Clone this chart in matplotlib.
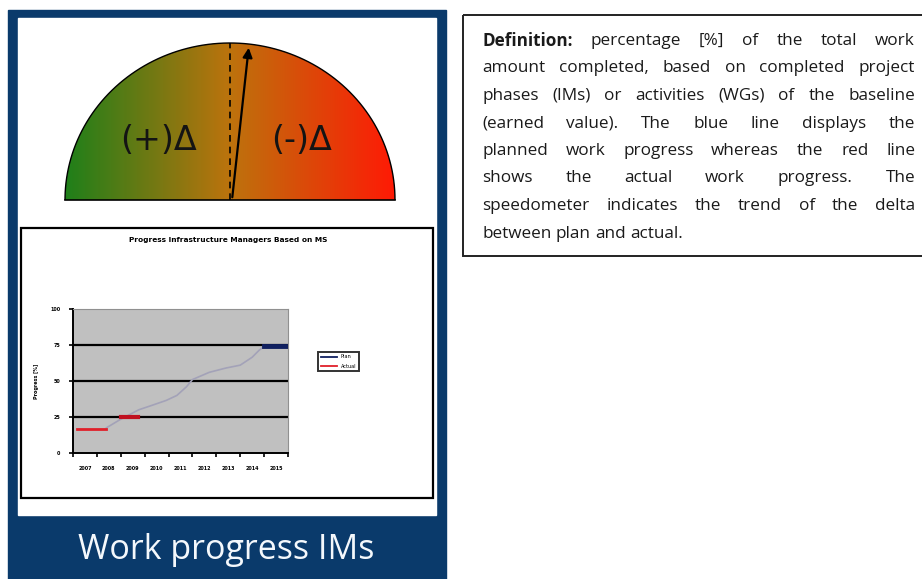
import numpy as np
import matplotlib.pyplot as plt
from matplotlib.colors import LinearSegmentedColormap
from matplotlib.patches import Rectangle, Polygon

# data for the small progress chart
years = [2007, 2008, 2009, 2010, 2011, 2012, 2013, 2014, 2015]
plan_x = [2007.9, 2008.45, 2009.25, 2009.7, 2010.4, 2010.85, 2011.25, 2011.5, 2012.2, 2012.9, 2013.5, 2014.0, 2014.3, 2014.5]
plan_y = [17.5, 23, 30, 32.5, 36.5, 40, 46, 51, 56, 59, 61, 66.5, 71.5, 74]
actual_x1 = [2006.65, 2007.9]
actual_y1 = [16.5, 16.5]
actual_x2 = [2008.5, 2009.2]
actual_y2 = [25, 25]
plan_end_x = [2014.5, 2015.45]
plan_end_y = [74, 74]
yticks = [0, 25, 50, 75, 100]

lines = [
    "Definition: percentage [%] of the total work",
    "amount completed, based on completed project",
    "phases (IMs) or activities (WGs) of the baseline",
    "(earned value). The blue line displays the",
    "planned work progress whereas the red line",
    "shows the actual work progress. The",
    "speedometer indicates the trend of the delta",
    "between plan and actual.",
]

navy = "#0a3a6b"
fs_txt = 12.3
W, H = 922, 579
fig = plt.figure(figsize=(W / 100, H / 100), dpi=100)
bg = fig.add_axes([0, 0, 1, 1])
bg.set_xlim(0, W)
bg.set_ylim(H, 0)
bg.axis("off")

# left panel frame
bg.add_patch(Rectangle((8, 10), 438, 580, color=navy, zorder=1))
bg.add_patch(Rectangle((18, 18), 418, 497, color="white", zorder=2))
bg.text(226, 550, "Work progress IMs", color="#f4f8fc", fontsize=24.5, family="Open Sans",
        ha="center", va="center", zorder=3)

# chart frame
bg.add_patch(Rectangle((21, 228), 412, 270, fill=False, edgecolor="black", lw=1.6, zorder=3))

# speedometer
cx, cy, rx, ry = 230, 200, 165, 157
t = np.linspace(0, np.pi, 200)
semi = np.column_stack([cx + rx * np.cos(t), cy - ry * np.sin(t)])
clip = Polygon(semi, closed=True, transform=bg.transData, facecolor="none")
cmap = LinearSegmentedColormap.from_list("g", [(0, (0.12, 0.50, 0.10)), (0.5, (0.74, 0.45, 0.05)), (1, (1.0, 0.1, 0.02))])
grad = np.linspace(0, 1, 256)[None, :]
im = bg.imshow(grad, cmap=cmap, extent=(cx - rx, cx + rx, cy, cy - ry), aspect="auto", zorder=3)
im.set_clip_path(clip)
bg.add_patch(Polygon(semi, closed=False, fill=False, edgecolor="black", lw=1.0, zorder=4))
bg.plot([cx - rx, cx + rx], [cy, cy], color="black", lw=1.2, zorder=4)
bg.plot([cx, cx], [cy, cy - ry], color="black", lw=1.2, ls=(0, (4, 3)), zorder=4)
bg.annotate("", xy=(249, 45), xytext=(232, cy),
            arrowprops=dict(arrowstyle="-|>", color="black", lw=1.6, mutation_scale=14), zorder=5)
bg.text(158, 140, "(+)Δ", fontsize=24, ha="center", va="center", color="#141414", zorder=5)
bg.text(302, 140, "(-)Δ", fontsize=24, ha="center", va="center", color="#141414", zorder=5)

# definition box
bg.add_patch(Rectangle((463, 15), 470, 241, fill=False, edgecolor="#222222", lw=1.4, zorder=3))
x0, x1 = 482, 915
fig.canvas.draw()
rend = fig.canvas.get_renderer()


def width_of(word, bold=False):
    tt = bg.text(0, 0, word, fontsize=fs_txt, family="Open Sans", weight="bold" if bold else "normal")
    bb = tt.get_window_extent(renderer=rend)
    tt.remove()
    return bb.width


space = width_of("a b") - width_of("a") - width_of("b")
for i, line in enumerate(lines):
    y = 41 + i * 27.5
    words = line.split()
    bolds = [i == 0 and k == 0 for k in range(len(words))]
    widths = [width_of(w, b) for w, b in zip(words, bolds)]
    if i == len(lines) - 1:
        gap = space
    else:
        gap = (x1 - x0 - sum(widths)) / (len(words) - 1)
    x = x0
    for w, b, wd in zip(words, bolds, widths):
        bg.text(x, y, w, fontsize=fs_txt, family="Open Sans", weight="bold" if b else "normal",
                color="#1a1a1a", ha="left", va="center", zorder=4)
        x += wd + gap

# small progress chart
ax = fig.add_axes([73 / W, (H - 453) / H, 215 / W, 144 / H])
ax.set_facecolor("#c0c0c0")
ax.set_xlim(2006.5, 2015.5)
ax.set_ylim(0, 100)
for yv in [25, 50, 75]:
    ax.axhline(yv, color="black", lw=1.6, zorder=1)
ax.plot(plan_x, plan_y, color="#a3a2b8", lw=1.2, zorder=2)
ax.plot(actual_x1, actual_y1, color="#e0202a", lw=2.0, zorder=3)
ax.plot(actual_x2, actual_y2, color="#c01020", lw=3.0, zorder=3)
ax.plot(plan_end_x, plan_end_y, color="#102060", lw=3.5, zorder=3)
ax.plot([], [], color="#102060", lw=1.3, label="Plan")
ax.plot([], [], color="#e0202a", lw=1.3, label="Actual")
ax.set_yticks(yticks)
ax.set_yticklabels([str(v) for v in yticks], fontsize=3.5, weight="bold")
ax.set_xticks([y - 0.5 for y in years] + [years[-1] + 0.5])
ax.set_xticklabels([])
ax.set_xticks(years, minor=True)
ax.set_xticklabels([str(y) for y in years], minor=True, fontsize=3.5, weight="bold")
ax.tick_params(axis="x", which="minor", length=0, pad=9)
ax.tick_params(axis="both", which="major", length=3, width=1.2, direction="out")
ax.tick_params(axis="y", pad=6)
for s in ["left", "bottom"]:
    ax.spines[s].set_linewidth(1.4)
for s in ["top", "right"]:
    ax.spines[s].set_color("#909090")
ax.set_ylabel("Progress [%]", fontsize=3.5, weight="bold", labelpad=8)
leg = ax.legend(loc="upper left", bbox_to_anchor=(1.13, 0.72), fontsize=3.6, frameon=True,
                fancybox=False, edgecolor="black", handlelength=3.2, borderpad=0.5, labelspacing=0.9)
leg.get_frame().set_linewidth(1.4)
fig.text(228 / W, 1 - 240 / H, "Progress Infrastructure Managers Based on MS", fontsize=5.3,
         weight="bold", ha="center", va="center")

fig.savefig("out.png", dpi=100)
